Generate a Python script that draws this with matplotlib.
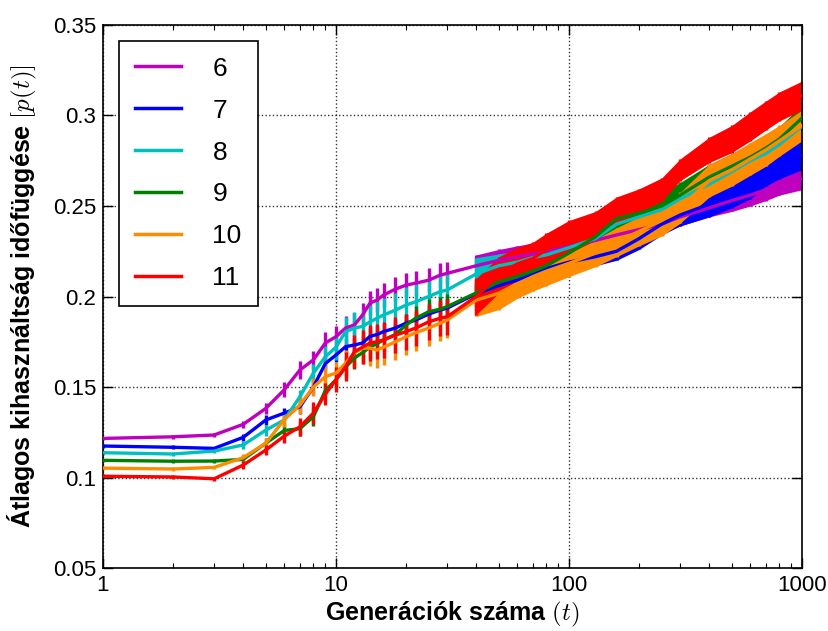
import matplotlib
matplotlib.use("Agg")
import matplotlib.pyplot as plt
import numpy as np

# ---- data ----
t = [1, 2, 3, 4, 5, 6, 7, 8, 9, 10, 11, 12, 13, 14, 15, 16, 18, 20, 22, 25, 28, 30,
     40, 50, 60, 70, 80, 100, 130, 160, 200, 250, 300, 400, 500, 600, 700, 800, 1000]

labels = ["6", "7", "8", "9", "10", "11"]
colors = ["m", "b", "c", "g", "darkorange", "r"]

p6 = [0.1216, 0.1225, 0.1235, 0.1294, 0.1382, 0.1485, 0.1594, 0.1650, 0.1743, 0.1778,
      0.1826, 0.1843, 0.1898, 0.1964, 0.1980, 0.2008, 0.2041, 0.2063, 0.2074, 0.2090, 0.2118, 0.2128,
      0.2170, 0.2200, 0.2220, 0.2235, 0.2250, 0.2275, 0.2310, 0.2340, 0.2370, 0.2400, 0.2440,
      0.2490, 0.2530, 0.2560, 0.2590, 0.2620, 0.2650]
e6 = [0.001, 0.001, 0.001, 0.002, 0.003, 0.004, 0.005, 0.005, 0.006, 0.006,
      0.0065, 0.0065, 0.0065, 0.0065, 0.0065, 0.0065, 0.0065, 0.0065, 0.0065, 0.0065, 0.0065, 0.0065,
      0.006, 0.006, 0.006, 0.006, 0.006, 0.005, 0.005, 0.005, 0.005, 0.005, 0.005,
      0.005, 0.006, 0.006, 0.006, 0.006, 0.006]

p7 = [0.1174, 0.1167, 0.1161, 0.1222, 0.1318, 0.1356, 0.1390, 0.1500, 0.1630, 0.1677,
      0.1723, 0.1732, 0.1743, 0.1780, 0.1790, 0.1806, 0.1826, 0.1853, 0.1870, 0.1903, 0.1925, 0.1936,
      0.2015, 0.2060, 0.2090, 0.2125, 0.2155, 0.2190, 0.2220, 0.2250, 0.2320, 0.2400, 0.2450,
      0.2510, 0.2560, 0.2620, 0.2690, 0.2730, 0.2780]
e7 = [0.001, 0.001, 0.001, 0.002, 0.003, 0.003, 0.004, 0.004, 0.004, 0.004,
      0.004, 0.004, 0.004, 0.0045, 0.0045, 0.0045, 0.0045, 0.0045, 0.0045, 0.005, 0.005, 0.005,
      0.005, 0.005, 0.005, 0.005, 0.005, 0.005, 0.005, 0.005, 0.006, 0.006, 0.006,
      0.007, 0.007, 0.008, 0.008, 0.008, 0.008]

p8 = [0.1137, 0.1130, 0.1146, 0.1180, 0.1262, 0.1318, 0.1446, 0.1577, 0.1667, 0.1720,
      0.1806, 0.1826, 0.1835, 0.1860, 0.1880, 0.1898, 0.1925, 0.1953, 0.1971, 0.2000, 0.2027, 0.2036,
      0.2125, 0.2170, 0.2190, 0.2215, 0.2230, 0.2270, 0.2320, 0.2400, 0.2440, 0.2480, 0.2540,
      0.2620, 0.2690, 0.2750, 0.2790, 0.2840, 0.2940]
e8 = [0.001, 0.001, 0.001, 0.002, 0.003, 0.004, 0.004, 0.005, 0.006, 0.007,
      0.008, 0.009, 0.009, 0.0095, 0.0095, 0.0095, 0.0095, 0.0097, 0.010, 0.010, 0.010, 0.010,
      0.009, 0.0065, 0.006, 0.0055, 0.0055, 0.005, 0.005, 0.005, 0.006, 0.006, 0.006,
      0.006, 0.006, 0.006, 0.006, 0.006, 0.006]

p9 = [0.1095, 0.1090, 0.1091, 0.1100, 0.1190, 0.1260, 0.1270, 0.1336, 0.1480, 0.1540,
      0.1610, 0.1660, 0.1690, 0.1720, 0.1740, 0.1760, 0.1790, 0.1843, 0.1880, 0.1916, 0.1930, 0.1944,
      0.2020, 0.2080, 0.2110, 0.2140, 0.2170, 0.2240, 0.2330, 0.2430, 0.2460, 0.2500, 0.2560,
      0.2660, 0.2720, 0.2770, 0.2820, 0.2870, 0.2986]
e9 = [0.001, 0.001, 0.001, 0.002, 0.003, 0.004, 0.004, 0.005, 0.005, 0.005,
      0.006, 0.006, 0.006, 0.006, 0.006, 0.006, 0.006, 0.006, 0.007, 0.007, 0.007, 0.007,
      0.007, 0.007, 0.007, 0.007, 0.007, 0.007, 0.007, 0.007, 0.007, 0.007, 0.007,
      0.007, 0.007, 0.007, 0.007, 0.007, 0.007]

p10 = [0.1052, 0.1047, 0.1056, 0.1110, 0.1190, 0.1320, 0.1400, 0.1500, 0.1557, 0.1577,
       0.1632, 0.1688, 0.1715, 0.1715, 0.1704, 0.1720, 0.1750, 0.1778, 0.1800, 0.1826, 0.1853, 0.1870,
       0.1980, 0.2018, 0.2070, 0.2110, 0.2140, 0.2183, 0.2240, 0.2300, 0.2360, 0.2420, 0.2490,
       0.2640, 0.2700, 0.2760, 0.2810, 0.2860, 0.2945]
e10 = [0.001, 0.001, 0.001, 0.002, 0.003, 0.004, 0.005, 0.005, 0.006, 0.006,
       0.007, 0.008, 0.009, 0.010, 0.010, 0.010, 0.010, 0.010, 0.010, 0.010, 0.010, 0.010,
       0.009, 0.009, 0.008, 0.008, 0.008, 0.0073, 0.0075, 0.008, 0.008, 0.0085, 0.0085,
       0.009, 0.009, 0.009, 0.009, 0.0085, 0.0085]

p11 = [0.1007, 0.1003, 0.0993, 0.1069, 0.1152, 0.1229, 0.1280, 0.1356, 0.1460, 0.1540,
       0.1612, 0.1695, 0.1720, 0.1743, 0.1750, 0.1760, 0.1787, 0.1806, 0.1826, 0.1860, 0.1880, 0.1888,
       0.2000, 0.2120, 0.2180, 0.2210, 0.2260, 0.2330, 0.2390, 0.2475, 0.2530, 0.2590, 0.2700,
       0.2810, 0.2870, 0.2940, 0.3000, 0.3050, 0.3110]
e11 = [0.001, 0.001, 0.001, 0.002, 0.003, 0.004, 0.005, 0.006, 0.006, 0.007,
       0.008, 0.009, 0.0095, 0.0097, 0.0097, 0.0097, 0.010, 0.010, 0.010, 0.010, 0.010, 0.010,
       0.010, 0.010, 0.009, 0.009, 0.009, 0.009, 0.008, 0.0075, 0.0065, 0.0065, 0.006,
       0.007, 0.0075, 0.008, 0.008, 0.008, 0.008]

means = [p6, p7, p8, p9, p10, p11]
errs = [e6, e7, e8, e9, e10, e11]

xticks = [1, 10, 100, 1000]
xticklabels = ["1", "10", "100", "1000"]
yticks = [0.05, 0.1, 0.15, 0.2, 0.25, 0.3, 0.35]
yticklabels = ["0.05", "0.1", "0.15", "0.2", "0.25", "0.3", "0.35"]

# ---- style ----
plt.rcParams['font.family'] = ['Liberation Sans', 'DejaVu Sans']
plt.rcParams['mathtext.fontset'] = 'cm'

fig = plt.figure(figsize=(8.29, 6.31), dpi=100, facecolor='white')
ax = fig.add_axes([0.1242, 0.0998, 0.8432, 0.8606])

tt = np.array(t, dtype=float)
for m, e, c, lab in zip(means, errs, colors, labels):
    m = np.array(m)
    e = np.array(e)
    sel = tt >= 40
    ax.fill_between(tt[sel], (m - e)[sel], (m + e)[sel], color=c, lw=0, zorder=2)
    ax.errorbar(tt, m, yerr=e, fmt='none', ecolor=c, elinewidth=2.4, capsize=0, zorder=2)
    ax.plot(tt, m, color=c, lw=2.4, label=lab, zorder=3)

ax.set_xscale('log')
ax.set_xlim(1, 1000)
ax.set_ylim(0.05, 0.35)
ax.set_xticks(xticks)
ax.set_xticklabels(xticklabels)
ax.set_yticks(yticks)
ax.set_yticklabels(yticklabels)
ax.tick_params(which='both', direction='in', top=True, right=True, labelsize=16)
ax.tick_params(which='major', length=7, width=1, pad=5)
ax.tick_params(which='minor', length=3.5, width=0.8)
ax.grid(True, which='major', linestyle=':', color='k', lw=1, alpha=0.8)
for s in ax.spines.values():
    s.set_linewidth(1.2)

ax.set_xlabel(r'Generációk száma $(t)$', fontsize=18, fontweight='bold', labelpad=3)
ax.set_ylabel(r'Átlagos kihasználtság időfüggése $[p(t)]$', fontsize=18, fontweight='bold', labelpad=10)

leg = ax.legend(loc='upper left', fontsize=19, labelspacing=0.68, handlelength=1.75,
                handletextpad=1.2, borderpad=0.6, fancybox=False, framealpha=1,
                edgecolor='k', borderaxespad=0.6)
leg.get_frame().set_linewidth(1.2)
for line in leg.get_lines():
    line.set_linewidth(2.5)

fig.savefig('out.png', dpi=100, facecolor='white')
